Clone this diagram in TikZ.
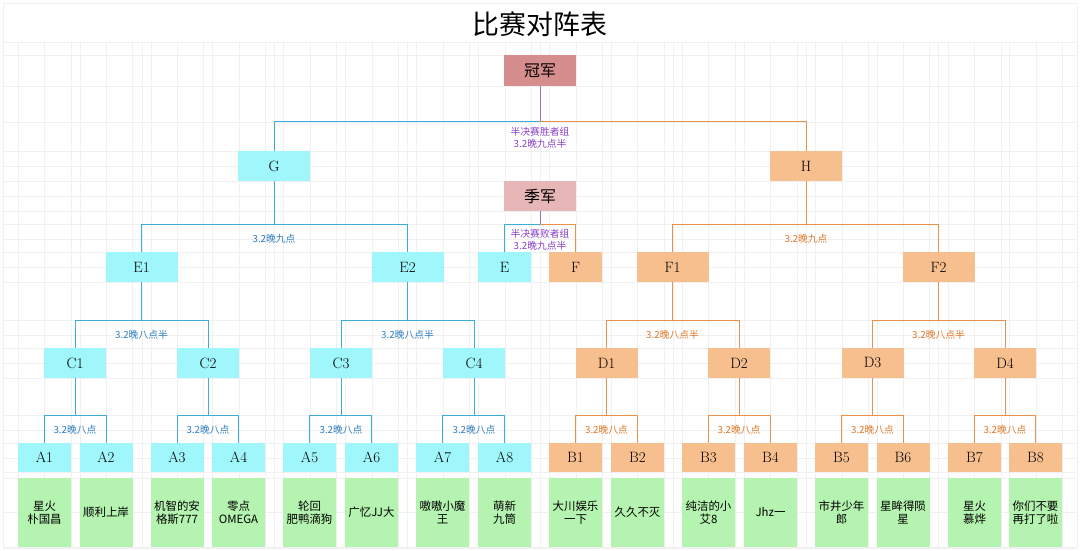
\documentclass[tikz,border=0pt]{standalone}
\usepackage{fontspec}
\newfontfamily\cjk{Noto Sans CJK SC}
\definecolor{ccyan}{HTML}{A0F7FB}
\definecolor{corange}{HTML}{F8BF8E}
\definecolor{cgreen}{HTML}{B5F4B0}
\definecolor{cgold}{HTML}{D68D8D}
\definecolor{cthird}{HTML}{E7B7B7}
\definecolor{lblue}{HTML}{3CADDB}
\definecolor{lorange}{HTML}{E8914A}
\definecolor{lpurple}{HTML}{9B72B0}
\definecolor{tblue}{HTML}{2F7DBE}
\definecolor{torange}{HTML}{E0782A}
\definecolor{tpurple}{HTML}{8A40C8}
\definecolor{gridc}{HTML}{F0F0F0}
\tikzset{
  box/.style={inner sep=0pt, minimum height=30bp, font=\fontsize{15}{15}\selectfont},
  cbox/.style={box, fill=ccyan},
  obox/.style={box, fill=corange},
  wbig/.style={minimum width=72bp},
  wmid/.style={minimum width=62bp},
  wsmall/.style={minimum width=53bp, minimum height=29bp},
  gbox/.style={fill=cgreen, minimum width=53bp, minimum height=69bp, inner sep=0pt, align=center, font=\cjk\fontsize{11.5}{13.5}\selectfont},
  bline/.style={draw=lblue, line width=1bp},
  oline/.style={draw=lorange, line width=1bp},
  pline/.style={draw=lpurple, line width=1bp},
  lab/.style={inner sep=0pt, align=center, font=\cjk\fontsize{9.8}{12.5}\selectfont},
  blab/.style={lab, text=tblue},
  olab/.style={lab, text=torange},
  plab/.style={lab, text=tpurple},
}
\begin{document}
\begin{tikzpicture}[x=1bp,y=-1bp]
\useasboundingbox (0,0) rectangle (1080,551);
\fill[white] (0,0) rectangle (1080,551);
% faint grid
\foreach \gx in {18,44,71,80,106,132,142,151,177,203,212,239,265,274,283,310,336,345,372,398,407,416,443,469,478,505,531,540,549,576,602,611,637,664,673,682,708,735,744,770,797,806,815,842,868,877,903,929,938,948,974,1001,1009,1036,1062}
  \draw[gridc, line width=0.5bp] (\gx,42) -- (\gx,548);
\foreach \gy in {42,55,86,122,151,166,181,196,211,224,239,252,267,282,320,335,348,363,378,415,430,443,458,472,478,512,547}
  \draw[gridc, line width=0.5bp] (4,\gy) -- (1076,\gy);
\draw[gridc, line width=0.8bp] (3,3) rectangle (1077,548);

% title
\node[inner sep=0pt, font=\cjk\fontsize{27}{27}\selectfont] (title) at (540,24) {比赛对阵表};

% top nodes
\node[box, wbig, minimum height=31bp, fill=cgold, font=\cjk\fontsize{16}{16}\selectfont] (champ) at (540,70.5) {冠军};
\node[box, wbig, fill=cthird, font=\cjk\fontsize{16}{16}\selectfont] (third) at (540,196) {季军};
\node[cbox, wbig] (G) at (274,166) {G};
\node[obox, wbig] (H) at (806,166) {H};
\node[cbox, wsmall, minimum height=30bp] (E) at (504.5,267) {E};
\node[obox, wsmall, minimum height=30bp] (F) at (575.5,267) {F};
\node[cbox, wbig] (E1) at (141.5,267) {E1};
\node[cbox, wbig] (E2) at (407.5,267) {E2};
\node[obox, wbig] (F1) at (672.5,267) {F1};
\node[obox, wbig] (F2) at (938.5,267) {F2};
\node[cbox, wmid] (C1) at (75,363) {C1};
\node[cbox, wmid] (C2) at (208,363) {C2};
\node[cbox, wmid] (C3) at (341,363) {C3};
\node[cbox, wmid] (C4) at (474,363) {C4};
\node[obox, wmid] (D1) at (606.5,363) {D1};
\node[obox, wmid] (D2) at (739,363) {D2};
\node[obox, wmid] (D3) at (872.5,363) {D3};
\node[obox, wmid] (D4) at (1005,363) {D4};

% leaves
\node[cbox, wsmall] (A1) at (44.5,457.5) {A1};
\node[cbox, wsmall] (A2) at (106,457.5) {A2};
\node[cbox, wsmall] (A3) at (177,457.5) {A3};
\node[cbox, wsmall] (A4) at (238.5,457.5) {A4};
\node[cbox, wsmall] (A5) at (309.5,457.5) {A5};
\node[cbox, wsmall] (A6) at (371.5,457.5) {A6};
\node[cbox, wsmall] (A7) at (442.5,457.5) {A7};
\node[cbox, wsmall] (A8) at (504.5,457.5) {A8};
\node[obox, wsmall] (B1) at (575.5,457.5) {B1};
\node[obox, wsmall] (B2) at (637.5,457.5) {B2};
\node[obox, wsmall] (B3) at (708.5,457.5) {B3};
\node[obox, wsmall] (B4) at (770.5,457.5) {B4};
\node[obox, wsmall] (B5) at (841.5,457.5) {B5};
\node[obox, wsmall] (B6) at (903,457.5) {B6};
\node[obox, wsmall] (B7) at (974.5,457.5) {B7};
\node[obox, wsmall] (B8) at (1035.5,457.5) {B8};

\node[gbox] (nA1) at (44.5,512.5) {星火\\朴国昌};
\node[gbox] (nA2) at (106,512.5) {顺利上岸};
\node[gbox] (nA3) at (177,512.5) {机智的安\\格斯777};
\node[gbox] (nA4) at (238.5,512.5) {零点\\OMEGA};
\node[gbox] (nA5) at (309.5,512.5) {轮回\\肥鸭滴狗};
\node[gbox] (nA6) at (371.5,512.5) {广忆JJ大};
\node[gbox] (nA7) at (442.5,512.5) {嗷嗷小魔\\王};
\node[gbox] (nA8) at (504.5,512.5) {萌新\\九筒};
\node[gbox] (nB1) at (575.5,512.5) {大川娱乐\\一下};
\node[gbox] (nB2) at (637.5,512.5) {久久不灭};
\node[gbox] (nB3) at (708.5,512.5) {纯洁的小\\艾8};
\node[gbox] (nB4) at (770.5,512.5) {Jhz一};
\node[gbox] (nB5) at (841.5,512.5) {市井少年\\郎};
\node[gbox] (nB6) at (903,512.5) {星眸得陨\\星};
\node[gbox] (nB7) at (974.5,512.5) {星火\\慕烨};
\node[gbox] (nB8) at (1035.5,512.5) {你们不要\\再打了啦};

% champion connectors
\draw[pline] (champ.south) -- ++(0,35.5) coordinate (jc);
\draw[bline] (jc) -| (G.north);
\draw[oline] (jc) -| (H.north);
\node[plab] (lc) at (540,138) {半决赛胜者组\\3.2晚九点半};

% third place connectors
\draw[pline] (third.south) -- ++(0,13) coordinate (jt);
\draw[bline] (jt) -| (E.north);
\draw[oline] (jt) -| (F.north);
\node[plab] (lt) at (540,239.5) {半决赛败者组\\3.2晚九点半};

% G / H
\draw[bline] (G.south) -- ++(0,43) coordinate (jG);
\draw[bline] (E1.north) |- (jG) -| (E2.north);
\node[blab] (lG) at (274,239) {3.2晚九点};
\draw[oline] (H.south) -- ++(0,43) coordinate (jH);
\draw[oline] (F1.north) |- (jH) -| (F2.north);
\node[olab] (lH) at (806,239) {3.2晚九点};

% E / F level
\draw[bline] (E1.south) -- ++(0,38) coordinate (jE1);
\draw[bline] (C1.north) |- (jE1) -| (C2.north);
\node[blab] (lE1) at (141.5,334.5) {3.2晚八点半};
\draw[bline] (E2.south) -- ++(0,38) coordinate (jE2);
\draw[bline] (C3.north) |- (jE2) -| (C4.north);
\node[blab] (lE2) at (407.5,334.5) {3.2晚八点半};
\draw[oline] (F1.south) -- ++(0,38) coordinate (jF1);
\draw[oline] (D1.north) |- (jF1) -| (D2.north);
\node[olab] (lF1) at (672.5,334.5) {3.2晚八点半};
\draw[oline] (F2.south) -- ++(0,38) coordinate (jF2);
\draw[oline] (D3.north) |- (jF2) -| (D4.north);
\node[olab] (lF2) at (938.5,334.5) {3.2晚八点半};

% C / D level
\draw[bline] (C1.south) -- ++(0,37) coordinate (jC1);
\draw[bline] (A1.north) |- (jC1) -| (A2.north);
\node[blab] (lC1) at (75,429.5) {3.2晚八点};
\draw[bline] (C2.south) -- ++(0,37) coordinate (jC2);
\draw[bline] (A3.north) |- (jC2) -| (A4.north);
\node[blab] (lC2) at (208,429.5) {3.2晚八点};
\draw[bline] (C3.south) -- ++(0,37) coordinate (jC3);
\draw[bline] (A5.north) |- (jC3) -| (A6.north);
\node[blab] (lC3) at (341,429.5) {3.2晚八点};
\draw[bline] (C4.south) -- ++(0,37) coordinate (jC4);
\draw[bline] (A7.north) |- (jC4) -| (A8.north);
\node[blab] (lC4) at (474,429.5) {3.2晚八点};
\draw[oline] (D1.south) -- ++(0,37) coordinate (jD1);
\draw[oline] (B1.north) |- (jD1) -| (B2.north);
\node[olab] (lD1) at (606.5,429.5) {3.2晚八点};
\draw[oline] (D2.south) -- ++(0,37) coordinate (jD2);
\draw[oline] (B3.north) |- (jD2) -| (B4.north);
\node[olab] (lD2) at (739,429.5) {3.2晚八点};
\draw[oline] (D3.south) -- ++(0,37) coordinate (jD3);
\draw[oline] (B5.north) |- (jD3) -| (B6.north);
\node[olab] (lD3) at (872.5,429.5) {3.2晚八点};
\draw[oline] (D4.south) -- ++(0,37) coordinate (jD4);
\draw[oline] (B7.north) |- (jD4) -| (B8.north);
\node[olab] (lD4) at (1005,429.5) {3.2晚八点};
\end{tikzpicture}
\end{document}
